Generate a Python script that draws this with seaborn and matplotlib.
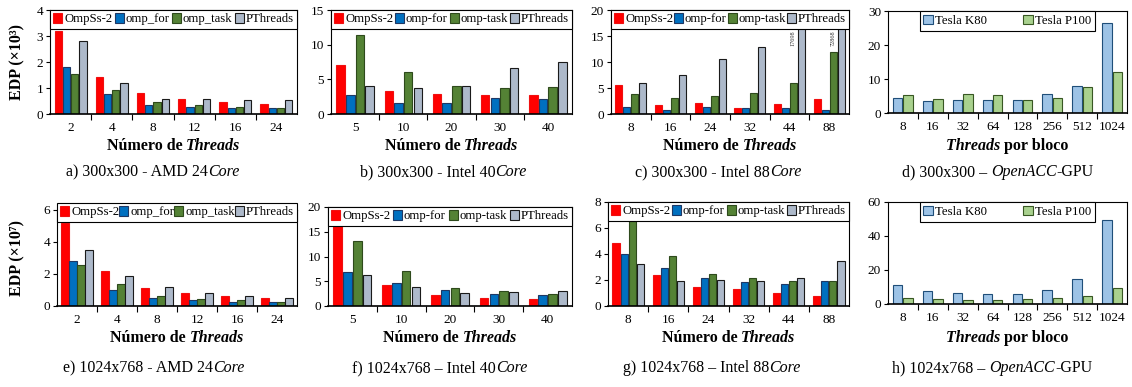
import numpy as np
import pandas as pd
import matplotlib
matplotlib.use('Agg')
import matplotlib.pyplot as plt
from matplotlib.patches import Patch
import seaborn as sns

# ---------------- data ----------------
cpu_labels_us = ['OmpSs-2', 'omp_for', 'omp_task', 'PThreads']
cpu_labels_dash = ['OmpSs-2', 'omp-for', 'omp-task', 'PThreads']
gpu_labels = ['Tesla K80', 'Tesla P100']

# a) 300x300 - AMD 24 Core (x10^3)
cats_a = ['2', '4', '8', '12', '16', '24']
ompss_a = [3.19, 1.44, 0.79, 0.59, 0.47, 0.40]
ompfor_a = [1.82, 0.77, 0.33, 0.26, 0.22, 0.22]
omptask_a = [1.54, 0.92, 0.45, 0.33, 0.27, 0.23]
pthr_a = [2.82, 1.20, 0.59, 0.59, 0.55, 0.55]

# b) 300x300 - Intel 40 Core
cats_b = ['5', '10', '20', '30', '40']
ompss_b = [7.07, 3.37, 2.93, 2.69, 2.79]
ompfor_b = [2.74, 1.63, 1.63, 2.26, 2.12]
omptask_b = [11.35, 6.06, 4.09, 3.70, 3.85]
pthr_b = [4.09, 3.80, 4.09, 6.63, 7.45]

# c) 300x300 - Intel 88 Core
cats_c = ['8', '16', '24', '32', '44', '88']
ompss_c = [5.64, 1.73, 2.05, 1.09, 1.99, 2.95]
ompfor_c = [1.41, 0.77, 1.28, 1.15, 1.09, 0.77]
omptask_c = [3.85, 3.00, 3.46, 4.04, 5.90, 11.86]
pthr_c = [5.90, 7.56, 10.50, 12.80, 17698, 72868]
pthr_c_labels = ['', '', '', '', '17698', '72868']

# d) 300x300 - OpenACC GPU
cats_d = ['8', '16', '32', '64', '128', '256', '512', '1024']
k80_d = [4.55, 3.58, 3.97, 3.97, 3.97, 5.60, 7.84, 26.4]
p100_d = [5.20, 4.07, 5.50, 5.20, 3.77, 4.55, 7.55, 12.0]

# e) 1024x768 - AMD 24 Core (x10^7)
cats_e = ['2', '4', '8', '12', '16', '24']
ompss_e = [5.17, 2.18, 1.15, 0.84, 0.65, 0.48]
ompfor_e = [2.82, 1.03, 0.48, 0.36, 0.27, 0.23]
omptask_e = [2.57, 1.36, 0.65, 0.44, 0.36, 0.25]
pthr_e = [3.49, 1.90, 1.19, 0.82, 0.63, 0.48]

# f) 1024x768 - Intel 40 Core
cats_f = ['5', '10', '20', '30', '40']
ompss_f = [17.3, 4.24, 2.29, 1.68, 1.35]
ompfor_f = [6.87, 4.71, 3.23, 2.49, 2.22]
omptask_f = [13.1, 7.00, 3.70, 3.10, 2.42]
pthr_f = [6.20, 3.90, 2.69, 2.83, 2.96]

# g) 1024x768 - Intel 88 Core
cats_g = ['8', '16', '24', '32', '44', '88']
ompss_g = [4.85, 2.36, 1.46, 1.28, 0.97, 0.77]
ompfor_g = [3.97, 2.95, 2.18, 1.82, 1.72, 1.90]
omptask_g = [6.51, 3.82, 2.44, 2.15, 1.92, 1.90]
pthr_g = [3.23, 1.95, 1.97, 1.95, 2.13, 3.44]

# h) 1024x768 - OpenACC GPU
cats_h = ['8', '16', '32', '64', '128', '256', '512', '1024']
k80_h = [10.9, 7.8, 6.4, 6.1, 5.9, 8.0, 15.0, 49.6]
p100_h = [3.3, 2.7, 2.3, 2.5, 2.7, 3.3, 4.9, 9.4]

captions_top = [
    [('a) 300x300 - AMD 24', False), ('Core', True)],
    [('b) 300x300 - Intel 40', False), ('Core', True)],
    [('c) 300x300 - Intel 88', False), ('Core', True)],
    [('d) 300x300 \u2013 ', False), ('OpenACC', True), ('-GPU', False)],
]
captions_bot = [
    [('e) 1024x768 - AMD 24', False), ('Core', True)],
    [('f) 1024x768 \u2013 Intel 40', False), ('Core', True)],
    [('g) 1024x768 \u2013 Intel 88', False), ('Core', True)],
    [('h) 1024x768 \u2013 ', False), ('OpenACC', True), ('-GPU', False)],
]

# ---------------- style ----------------
sns.set_theme(style='white')
plt.rcParams['font.family'] = ['Liberation Serif', 'DejaVu Serif']
plt.rcParams.update({'axes.edgecolor': 'black', 'axes.linewidth': 0.8,
                     'xtick.color': 'black', 'ytick.color': 'black',
                     'text.color': 'black', 'axes.labelcolor': 'black'})

CPU_COLORS = ['#FF0000', '#0070C0', '#548235', '#ADB9CA']
CPU_EDGES = ['#F01010', '#1F3864', '#2E4A1C', '#1A1A1A']
GPU_COLORS = ['#9DC3E6', '#A9D18E']
GPU_EDGES = ['#1F4E79', '#385723']

W, H = 1132, 387
fig = plt.figure(figsize=(W / 100, H / 100), dpi=100)
fig.patch.set_facecolor('white')
renderer = fig.canvas.get_renderer()


def add_ax(l, t, r, b):
    return fig.add_axes([l / W, 1 - b / H, (r - l) / W, (b - t) / H])


def draw_bars(ax, cats, series, labels, colors, edges, width, gap):
    rows = []
    for lab, vals in zip(labels, series):
        for c, v in zip(cats, vals):
            rows.append((c, v, lab))
    df = pd.DataFrame(rows, columns=['cat', 'val', 'ser'])
    sns.barplot(data=df, x='cat', y='val', hue='ser', order=cats, hue_order=labels,
                palette=colors, saturation=1, width=width, gap=gap, legend=False,
                errorbar=None, linewidth=0.8, ax=ax)
    for cont, ec in zip(ax.containers, edges):
        for p in cont:
            p.set_edgecolor(ec)


def style_ax(ax, n, ymax, ystep):
    ax.set_xlim(-0.5, n - 0.5)
    ax.set_ylim(0, ymax)
    ticks = np.arange(0, ymax + 0.001, ystep)
    ax.set_yticks(ticks)
    ax.set_yticklabels([f'{int(t)}' for t in ticks])
    ax.set_xlabel('')
    ax.set_ylabel('')
    ax.tick_params(axis='x', which='major', length=0, labelsize=9.5, pad=6)
    ax.set_xticks(np.arange(0.5, n - 0.5, 1), minor=True)
    ax.tick_params(axis='x', which='minor', length=4, width=0.8, direction='out', bottom=True)
    ax.tick_params(axis='y', length=3, width=0.8, direction='out', labelsize=9.5, pad=2, left=True)
    for s in ax.spines.values():
        s.set_color('black')
        s.set_linewidth(0.8)
    ax.spines['bottom'].set_linewidth(1.2)


def cpu_legend(ax, labels, yoff=0.0):
    handles = [Patch(facecolor=c, edgecolor=e, linewidth=0.8, label=l)
               for c, e, l in zip(CPU_COLORS, CPU_EDGES, labels)]
    leg = ax.legend(handles=handles, loc='upper left', bbox_to_anchor=(0, 1 + yoff, 1, 0),
                    mode='expand', ncol=4, fontsize=9.2, frameon=True, fancybox=False,
                    edgecolor='black', framealpha=1, handlelength=0.7, handleheight=0.75,
                    handletextpad=0.15, columnspacing=0.2, borderpad=0.25, borderaxespad=0)
    leg.get_frame().set_linewidth(0.8)


def gpu_legend(ax):
    handles = [Patch(facecolor=c, edgecolor=e, linewidth=0.8, label=l)
               for c, e, l in zip(GPU_COLORS, GPU_EDGES, gpu_labels)]
    leg = ax.legend(handles=handles, loc='upper center', bbox_to_anchor=(0.5, 1.0),
                    ncol=2, fontsize=9.2, frameon=True, fancybox=False,
                    edgecolor='black', framealpha=1, handlelength=0.75, handleheight=0.75,
                    handletextpad=0.2, columnspacing=2.8, borderpad=0.3, borderaxespad=0)
    leg.get_frame().set_linewidth(0.8)


def text_width(s, size, weight, italic):
    t = fig.text(0, 0, s, fontsize=size, fontweight=weight,
                 fontstyle='italic' if italic else 'normal')
    w = t.get_window_extent(renderer).width
    t.remove()
    return w


def rich(xc, y, parts, size, weight='normal'):
    sp = text_width('a a', size, weight, False) - text_width('aa', size, weight, False)
    objs, widths = [], []
    for s, it in parts:
        t = fig.text(0, 1 - y / H, s, fontsize=size, fontweight=weight,
                     fontstyle='italic' if it else 'normal', va='baseline', ha='left')
        objs.append(t)
        core = s.strip()
        lead = len(s) - len(s.lstrip())
        trail = len(s) - len(s.rstrip())
        w = text_width(core, size, weight, it) + sp * trail
        widths.append((w, lead * sp))
    total = sum(w + l for w, l in widths)
    x = xc - total / 2
    for t, (w, l) in zip(objs, widths):
        t.set_x(x / W)
        x += w + l


# ---------------- panels ----------------
boxes_top = [(50, 10, 297, 114), (331, 10, 572, 114), (611, 10, 849, 114), (888, 11, 1127, 113)]
boxes_bot = [(57, 210, 297, 306), (328, 207, 572, 306), (608, 202, 849, 306), (888, 202, 1127, 304)]

# a
ax = add_ax(*boxes_top[0])
draw_bars(ax, cats_a, [ompss_a, ompfor_a, omptask_a, pthr_a], cpu_labels_us, CPU_COLORS, CPU_EDGES, 0.8, 0.12)
style_ax(ax, len(cats_a), 4, 1)
cpu_legend(ax, cpu_labels_us)
# b
ax = add_ax(*boxes_top[1])
draw_bars(ax, cats_b, [ompss_b, ompfor_b, omptask_b, pthr_b], cpu_labels_dash, CPU_COLORS, CPU_EDGES, 0.8, 0.12)
style_ax(ax, len(cats_b), 15, 5)
cpu_legend(ax, cpu_labels_dash)
# c
ax = add_ax(*boxes_top[2])
draw_bars(ax, cats_c, [ompss_c, ompfor_c, omptask_c, pthr_c], cpu_labels_dash, CPU_COLORS, CPU_EDGES, 0.8, 0.12)
style_ax(ax, len(cats_c), 20, 5)
for i, lab in enumerate(pthr_c_labels):
    if lab:
        ax.text(i + 0.1, 14.6, lab, rotation=90, fontsize=4.5, ha='center', va='center', color='#333333')
cpu_legend(ax, cpu_labels_dash)
# d
ax = add_ax(*boxes_top[3])
draw_bars(ax, cats_d, [k80_d, p100_d], gpu_labels, GPU_COLORS, GPU_EDGES, 0.7, 0.1)
style_ax(ax, len(cats_d), 30, 10)
gpu_legend(ax)
# e
ax = add_ax(*boxes_bot[0])
draw_bars(ax, cats_e, [ompss_e, ompfor_e, omptask_e, pthr_e], cpu_labels_us, CPU_COLORS, CPU_EDGES, 0.8, 0.12)
style_ax(ax, len(cats_e), 6, 2)
cpu_legend(ax, cpu_labels_us, yoff=7 / 96)
# f
ax = add_ax(*boxes_bot[1])
draw_bars(ax, cats_f, [ompss_f, ompfor_f, omptask_f, pthr_f], cpu_labels_dash, CPU_COLORS, CPU_EDGES, 0.8, 0.12)
style_ax(ax, len(cats_f), 20, 5)
cpu_legend(ax, cpu_labels_dash)
# g
ax = add_ax(*boxes_bot[2])
draw_bars(ax, cats_g, [ompss_g, ompfor_g, omptask_g, pthr_g], cpu_labels_dash, CPU_COLORS, CPU_EDGES, 0.8, 0.12)
style_ax(ax, len(cats_g), 8, 2)
cpu_legend(ax, cpu_labels_dash)
# h
ax = add_ax(*boxes_bot[3])
draw_bars(ax, cats_h, [k80_h, p100_h], gpu_labels, GPU_COLORS, GPU_EDGES, 0.7, 0.1)
style_ax(ax, len(cats_h), 60, 20)
gpu_legend(ax)

# ---------------- labels ----------------
fig.text(17 / W, 1 - 62 / H, 'EDP (\u00d710\u00b3)', rotation=90, fontsize=11.5,
         fontweight='bold', ha='center', va='center')
fig.text(17 / W, 1 - 258 / H, 'EDP (\u00d710\u2077)', rotation=90, fontsize=11.5,
         fontweight='bold', ha='center', va='center')

for boxes, yb in ((boxes_top, 150), (boxes_bot, 342)):
    for k, (l, t, r, b) in enumerate(boxes):
        xc = (l + r) / 2
        if k < 3:
            parts = [('Número de ', False), ('Threads', True)]
        else:
            parts = [('Threads ', True), ('por bloco', False)]
        rich(xc, yb, parts, 11.5, weight='bold')

cap_x_top = [153, 443, 718, 998]
cap_x_bot = [154, 440, 712, 992]
for xc, parts in zip(cap_x_top, captions_top):
    rich(xc, 176, parts, 11.5)
for xc, parts in zip(cap_x_bot, captions_bot):
    rich(xc, 372, parts, 11.5)

fig.savefig('out.png', dpi=100, facecolor='white')
